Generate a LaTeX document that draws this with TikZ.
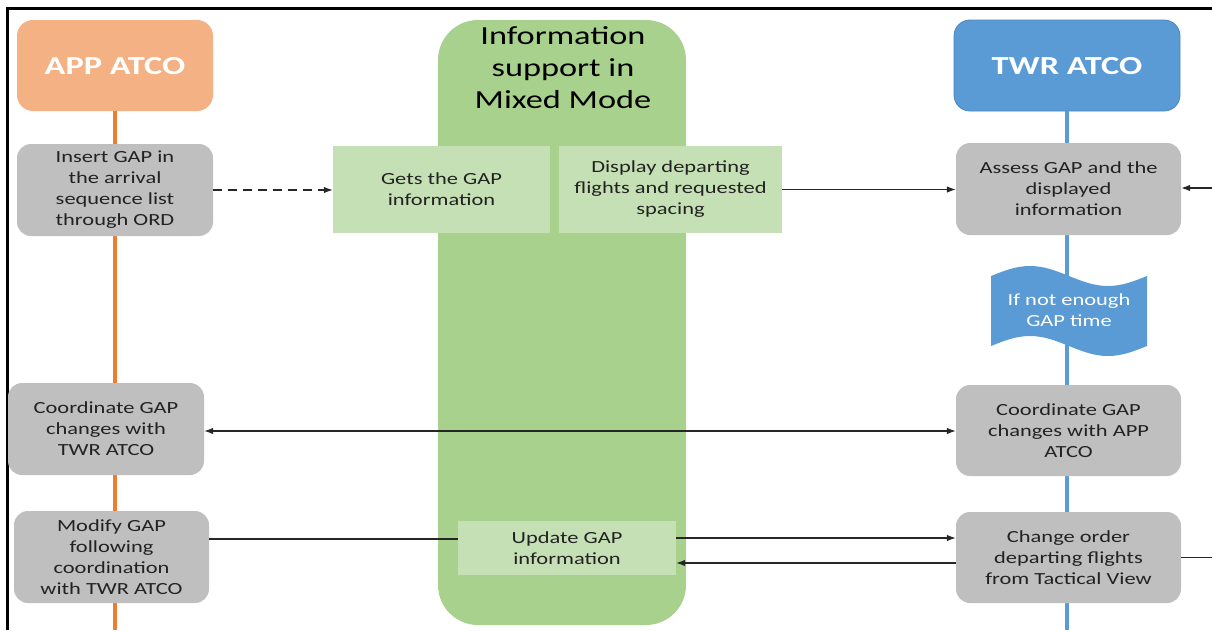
\documentclass[tikz,border=0pt]{standalone}
\usepackage{fontspec}
\setmainfont{Carlito}[FakeStretch=1.32]
\usetikzlibrary{arrows.meta}
\definecolor{apphdr}{HTML}{F4B183}
\definecolor{appline}{HTML}{ED7D31}
\definecolor{grayfill}{HTML}{BFBFBF}
\definecolor{greencol}{HTML}{A9D18E}
\definecolor{lgreen}{HTML}{C5E0B4}
\definecolor{twrblue}{HTML}{5B9BD5}
\definecolor{twredge}{HTML}{4A86BE}
\definecolor{txt}{HTML}{222222}
\tikzset{
  graybox/.style={rectangle, rounded corners=14pt, fill=grayfill, text=txt,
    font=\fontsize{17}{21}\selectfont, align=center, inner sep=0pt},
  lgbox/.style={rectangle, fill=lgreen, text=txt,
    font=\fontsize{17}{21}\selectfont, align=center, inner sep=0pt},
  hdr/.style={rectangle, rounded corners=16pt, text=white,
    font=\fontsize{26}{30}\selectfont\bfseries, align=center, inner sep=0pt,
    minimum height=91pt, text height=17pt, text depth=0pt},
  lifeline/.style={line width=4.5pt},
  arr/.style={-{Latex[length=9pt,width=6.5pt]}, line width=1.1pt, draw=black!85},
  plain/.style={line width=1.1pt, draw=black!85},
  frame/.style={line width=3pt, draw=black}
}
\begin{document}
\begin{tikzpicture}[x=1pt,y=-1pt]
\useasboundingbox (0,0) rectangle (1212,630);
% frame
\coordinate (f0) at (7,8);
\coordinate (f1) at (1212,8);
\coordinate (f2) at (7,630);
\draw[frame] (f1) -- (f0) -- (f2);

% green column
\node[rectangle, rounded corners=40pt, fill=greencol, minimum width=248pt,
  minimum height=605pt, inner sep=0pt] (col) at (562,322.5) {};
\node[text=black, font=\fontsize{26}{32}\selectfont, align=center] (title) at (563,67.5)
  {Information\\support in\\Mixed Mode};

% headers
\node[hdr, fill=apphdr, minimum width=196pt] (apph) at (115,65.5) {APP ATCO};
\node[hdr, fill=twrblue, draw=twredge, line width=0.8pt, minimum width=226pt] (twrh) at (1067,65.5) {TWR ATCO};

% lifelines
\coordinate (append) at (115,630);
\coordinate (twrend) at (1067,630);
\draw[lifeline, appline] (apph.south) -- (append);
\draw[lifeline, twrblue] (twrh.south) -- (twrend);

% light green boxes
\node[lgbox, minimum width=217pt, minimum height=87pt] (gets) at (441.5,189.5) {Gets the GAP\\information};
\node[lgbox, minimum width=223pt, minimum height=87pt] (disp) at (670.5,189.5) {Display departing\\flights and requested\\spacing};
\node[lgbox, minimum width=218pt, minimum height=54pt] (upd) at (567,548) {Update GAP\\information};

% APP boxes
\node[graybox, minimum width=196pt, minimum height=92pt] (ins) at (115,190) {Insert GAP in\\the arrival\\sequence list\\through ORD};
\node[graybox, minimum width=196pt, minimum height=92pt] (coapp) at (106,429) {Coordinate GAP\\changes with\\TWR ATCO};
\node[graybox, minimum width=195pt, minimum height=92pt] (mod) at (111.5,557) {Modify GAP\\following\\coordination\\with TWR ATCO};

% TWR boxes
\node[graybox, minimum width=225pt, minimum height=92pt] (ass) at (1068.5,189) {Assess GAP and the\\displayed\\information};
\node[graybox, minimum width=225pt, minimum height=91pt] (cotwr) at (1068.5,430.5) {Coordinate GAP\\changes with APP\\ATCO};
\node[graybox, minimum width=225pt, minimum height=91pt] (chg) at (1068.5,557.5) {Change order\\departing flights\\from Tactical View};

% wave
\fill[twrblue] (991,276) sin (1030,266) cos (1069,276) sin (1108,286) cos (1147,276)
  -- (1147,346) sin (1108,356) cos (1069,346) sin (1030,336) cos (991,346) -- cycle;
\node[text=white, font=\fontsize{17}{21}\selectfont, align=center] (wave) at (1069,310) {If not enough\\GAP time};

% connectors
\coordinate (redge1) at (1212,188);
\coordinate (redge2) at (1212,557);
\draw[arr, dashed, dash pattern=on 9pt off 6pt] (ins.east) -- (ins.east -| gets.west);
\draw[arr] (disp.east) -- (disp.east -| ass.west);
\draw[arr] (redge1) -- (redge1 -| ass.east);
\draw[arr, {Latex[length=9pt,width=6.5pt]}-{Latex[length=9pt,width=6.5pt]}] ([yshift=-2pt]coapp.east) -- ([yshift=-2pt]coapp.east -| cotwr.west);
\draw[plain] ([yshift=18pt]mod.east) -- ([yshift=18pt]mod.east -| upd.west);
\draw[arr] ([yshift=10pt]upd.east) -- ([yshift=10pt]upd.east -| chg.west);
\draw[arr] ([yshift=-5.5pt]chg.west) -- ([yshift=-5.5pt]chg.west -| upd.east);
\draw[plain] (chg.east) -- (chg.east -| redge2);
\end{tikzpicture}
\end{document}
